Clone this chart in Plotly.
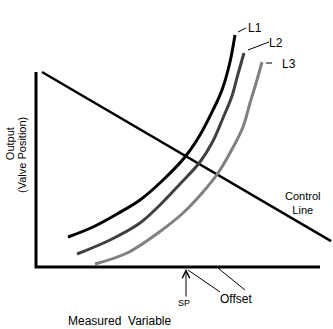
import plotly.graph_objects as go

# Values read in image pixels, converted to data units below via the axes scale
# Data coordinates: x = measured variable, y = output (arbitrary units)
KX, KY, X0, Y0 = 2.84, 1.95, 36.0, 267.0

l1_px = [68, 93, 117, 140, 162, 185, 200, 213, 222, 230, 235]
l1_py = [237, 227, 214, 200, 181, 157, 135, 110, 90, 62, 35]
l2_px = [77, 110, 140, 160, 180, 200, 213, 223, 232, 238, 244]
l2_py = [254, 240, 223, 205, 184, 162, 141, 118, 96, 74, 53]
l3_px = [95, 127, 162, 183, 203, 218, 230, 243, 250, 257, 262]
l3_py = [264, 253, 230, 213, 192, 173, 153, 127, 103, 80, 62]

def cx(v):
    return [(p - X0) / KX for p in v]

def cy(v):
    return [(Y0 - p) / KY for p in v]

l1_x, l1_y = cx(l1_px), cy(l1_py)
l2_x, l2_y = cx(l2_px), cy(l2_py)
l3_x, l3_y = cx(l3_px), cy(l3_py)

control_x = [2.1, 103.9]
control_y = [100.0, 13.3]
axis_x = [0, 0, 100]
axis_y = [100, 0, 0]

curve_names = ["L1", "L2", "L3"]
curve_colors = ["#000000", "#404040", "#808080"]
label_pos = [(77.0, 122.8), (84.5, 114.9), (89.1, 104.1)]
leader_x = [[71.13, 73.94], [74.65, 82.04], [80.99, 83.10]]
leader_y = [[120.5, 122.6], [111.28, 115.38], [104.6, 104.6]]

sp_x = 52.82
offset_lines_x = [[53.52, 64.79], [64.08, 73.59]]
offset_lines_y = [[-1.54, -12.82], [-0.51, -11.79]]

FONT = "Liberation Sans, Arial, sans-serif"

fig = go.Figure()
fig.add_trace(go.Scatter(x=axis_x, y=axis_y, mode="lines",
                         line=dict(color="black", width=3), hoverinfo="skip"))
fig.add_trace(go.Scatter(x=control_x, y=control_y, mode="lines",
                         line=dict(color="black", width=2.5), hoverinfo="skip"))
for xs, ys, c in zip([l1_x, l2_x, l3_x], [l1_y, l2_y, l3_y], curve_colors):
    fig.add_trace(go.Scatter(x=xs, y=ys, mode="lines",
                             line=dict(color=c, width=3, shape="spline", smoothing=1.0),
                             hoverinfo="skip"))
for lx, ly in zip(leader_x, leader_y):
    fig.add_trace(go.Scatter(x=lx, y=ly, mode="lines",
                             line=dict(color="black", width=1), hoverinfo="skip"))
for lx, ly in zip(offset_lines_x, offset_lines_y):
    fig.add_trace(go.Scatter(x=lx, y=ly, mode="lines",
                             line=dict(color="black", width=1), hoverinfo="skip"))

ann = []
for name, (px, py) in zip(curve_names, label_pos):
    ann.append(dict(x=px, y=py, text=name, showarrow=False,
                    font=dict(size=12, color="black", family=FONT)))
ann.append(dict(x=94.0, y=32.6, text="Control<br>Line", showarrow=False,
                font=dict(size=11, color="black", family=FONT)))
ann.append(dict(x=sp_x, y=-1.0, ax=sp_x, ay=-15.9, axref="x", ayref="y",
                text="", showarrow=True, arrowhead=5, arrowsize=1.5, arrowwidth=1,
                arrowcolor="black"))
ann.append(dict(x=52.11, y=-18.7, text="SP", showarrow=False,
                font=dict(size=9, color="black", family=FONT)))
ann.append(dict(x=70.42, y=-16.15, text="Offset", showarrow=False,
                font=dict(size=12, color="black", family=FONT)))
ann.append(dict(x=29.23, y=-27.7, text="Measured  Variable", showarrow=False,
                font=dict(size=12, color="black", family=FONT)))
ann.append(dict(x=-9.15, y=63.0, text="Output", showarrow=False, textangle=-90,
                font=dict(size=11, color="black", family=FONT)))
ann.append(dict(x=-4.9, y=57.5, text="(Valve Position)", showarrow=False, textangle=-90,
                font=dict(size=11, color="black", family=FONT)))

fig.update_layout(
    width=333, height=329,
    margin=dict(l=0, r=0, t=0, b=0),
    paper_bgcolor="white", plot_bgcolor="white",
    showlegend=False,
    xaxis=dict(range=[-12.676, 104.58], visible=False, fixedrange=True),
    yaxis=dict(range=[-31.79, 136.92], visible=False, fixedrange=True),
    annotations=ann,
)
fig.write_html("out.html")
